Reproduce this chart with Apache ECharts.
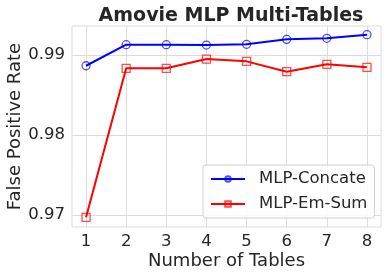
<!DOCTYPE html>
<html><head><meta charset="utf-8">
<script src="https://cdn.jsdelivr.net/npm/echarts@6/dist/echarts.min.js"></script>
<style>html,body{margin:0;padding:0;background:#fff}#c{width:388px;height:278px}</style>
</head><body><div id="c"></div>
<script>
const tables = [1, 2, 3, 4, 5, 6, 7, 8];
const mlpConcate = [0.98866, 0.99129, 0.99129, 0.99125, 0.99134, 0.99196, 0.99209, 0.99254];
const mlpEmSum = [0.96971, 0.98834, 0.98834, 0.9895, 0.98921, 0.98792, 0.98884, 0.98846];
const yTicks = [0.97, 0.98, 0.99];
const xTicks = [1, 2, 3, 4, 5, 6, 7, 8];

const chart = echarts.init(document.getElementById('c'));
const font = 'DejaVu Sans';
chart.setOption({
  animation: false,
  title: { text: 'Amovie MLP Multi-Tables', left: 226, top: 2, textAlign: 'center',
    textStyle: { fontFamily: font, fontSize: 19, fontWeight: 'bold', color: '#262626' } },
  grid: { left: 72, right: 7, top: 26, bottom: 51, show: true, borderColor: '#dcdcdc', borderWidth: 1,
    containLabel: false, outerBoundsMode: 'none' },
  legend: {
    left: 203, top: 165, orient: 'vertical', itemGap: 5, itemWidth: 34, itemHeight: 7,
    backgroundColor: 'rgba(255,255,255,0.85)', borderColor: '#d0d0d0', borderWidth: 1, borderRadius: 3,
    padding: [4, 7, 4, 7],
    textStyle: { fontFamily: font, fontSize: 16.5, lineHeight: 20, color: '#262626', padding: [0, 0, 0, 9] },
    data: ['MLP-Concate', 'MLP-Em-Sum']
  },
  xAxis: {
    type: 'value', min: 0.65, max: 8.35,
    name: 'Number of Tables', nameLocation: 'middle', nameGap: 25, nameMoveOverlap: false,
    nameTextStyle: { fontFamily: font, fontSize: 18, color: '#262626' },
    axisLine: { show: false }, axisTick: { show: false, customValues: xTicks },
    axisLabel: { customValues: xTicks, fontFamily: font, fontSize: 16.5, color: '#262626', margin: 6 },
    splitLine: { show: true, lineStyle: { color: '#dcdcdc', width: 1 } }
  },
  yAxis: {
    type: 'value', min: 0.9685, max: 0.99363,
    name: 'False Positive Rate', nameLocation: 'middle', nameGap: 48, nameMoveOverlap: false,
    nameTextStyle: { fontFamily: font, fontSize: 18, color: '#262626' },
    axisLine: { show: false }, axisTick: { show: false, customValues: yTicks },
    axisLabel: { customValues: yTicks, fontFamily: font, fontSize: 16.5, color: '#262626', margin: 7,
      formatter: v => String(Math.round(v * 100) / 100) },
    splitLine: { show: true, lineStyle: { color: '#dcdcdc', width: 1 } }
  },
  series: [
    { name: 'MLP-Concate', type: 'line', data: tables.map((t, i) => [t, mlpConcate[i]]),
      symbol: 'circle', symbolSize: 8, color: '#0000ff',
      lineStyle: { color: '#0000ff', width: 2 },
      itemStyle: { color: 'rgba(255,255,255,0)', borderColor: 'rgba(0,0,255,0.7)', borderWidth: 1.3 } },
    { name: 'MLP-Em-Sum', type: 'line', data: tables.map((t, i) => [t, mlpEmSum[i]]),
      symbol: 'rect', symbolSize: 8, color: '#ff0000',
      lineStyle: { color: '#ff0000', width: 2 },
      itemStyle: { color: 'rgba(255,255,255,0)', borderColor: 'rgba(255,0,0,0.7)', borderWidth: 1.3 } }
  ]
});
</script></body></html>
